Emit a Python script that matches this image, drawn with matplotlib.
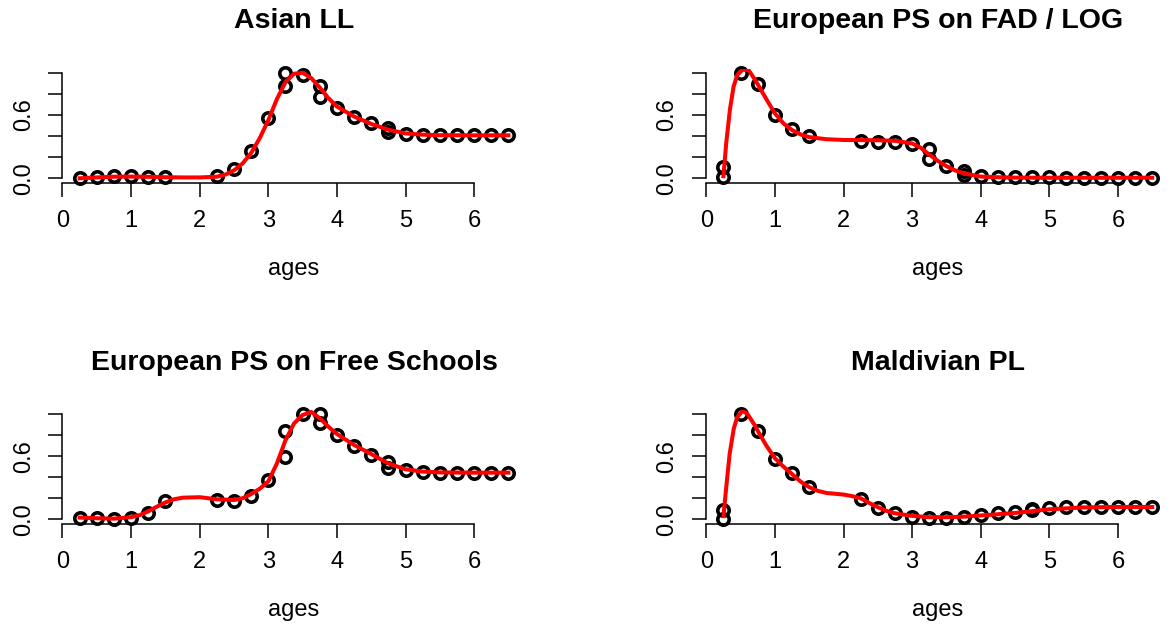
import matplotlib
matplotlib.use("Agg")
import matplotlib.pyplot as plt

plt.rcParams['font.family'] = ['Liberation Sans', 'DejaVu Sans']

titles = ["Asian LL", "European PS on FAD / LOG",
          "European PS on Free Schools", "Maldivian PL"]
xlabel = "ages"
xticks = [0, 1, 2, 3, 4, 5, 6]
yticks = [0.0, 0.2, 0.4, 0.6, 0.8, 1.0]
ytick_labels = ["0.0", "", "", "0.6", "", ""]

# observed selectivity points
ages1 = [0.25, 0.5, 0.75, 1.0, 1.25, 1.5, 2.25, 2.5, 2.75, 3.0, 3.25, 3.25, 3.5,
         3.75, 3.75, 4.0, 4.25, 4.5, 4.75, 4.75, 5.0, 5.25, 5.5, 5.75, 6.0, 6.25, 6.5]
sel1 = [0.0, 0.01, 0.025, 0.022, 0.015, 0.015, 0.022, 0.088, 0.26, 0.574, 1.0, 0.874,
        0.978, 0.874, 0.767, 0.662, 0.584, 0.52, 0.48, 0.44, 0.423, 0.407, 0.407,
        0.407, 0.407, 0.407, 0.407]

ages2 = [0.25, 0.25, 0.5, 0.75, 1.0, 1.25, 1.5, 2.25, 2.5, 2.75, 3.0, 3.25, 3.25,
         3.5, 3.75, 3.75, 4.0, 4.25, 4.5, 4.75, 5.0, 5.25, 5.5, 5.75, 6.0, 6.25, 6.5]
sel2 = [0.104, 0.01, 1.0, 0.893, 0.6, 0.464, 0.40, 0.356, 0.344, 0.344, 0.325, 0.274,
        0.186, 0.117, 0.073, 0.035, 0.022, 0.016, 0.013, 0.012, 0.008, 0.006, 0.006,
        0.006, 0.006, 0.005, 0.005]

ages3 = [0.25, 0.5, 0.75, 1.0, 1.25, 1.5, 2.25, 2.5, 2.75, 3.0, 3.25, 3.25, 3.5,
         3.75, 3.75, 4.0, 4.25, 4.5, 4.75, 4.75, 5.0, 5.25, 5.5, 5.75, 6.0, 6.25, 6.5]
sel3 = [0.016, 0.01, 0.006, 0.016, 0.063, 0.17, 0.183, 0.177, 0.225, 0.37, 0.84, 0.595,
        0.997, 1.0, 0.91, 0.80, 0.696, 0.61, 0.547, 0.49, 0.465, 0.45, 0.443, 0.443,
        0.443, 0.443, 0.443]

ages4 = [0.25, 0.25, 0.5, 0.75, 1.0, 1.25, 1.5, 2.25, 2.5, 2.75, 3.0, 3.25, 3.5, 3.75,
         4.0, 4.25, 4.5, 4.75, 4.75, 5.0, 5.25, 5.5, 5.75, 6.0, 6.25, 6.5]
sel4 = [0.089, 0.006, 1.0, 0.842, 0.573, 0.443, 0.31, 0.19, 0.104, 0.057, 0.025, 0.016,
        0.016, 0.025, 0.041, 0.057, 0.073, 0.089, 0.1, 0.104, 0.114, 0.117, 0.117,
        0.117, 0.117, 0.117]

# fitted selectivity curves
cx1 = [0.25, 0.5, 0.75, 1.0, 1.25, 1.5, 1.75, 2.0, 2.25, 2.375, 2.5, 2.625, 2.75, 2.875,
       3.0, 3.125, 3.25, 3.375, 3.5, 3.625, 3.75, 3.875, 4.0, 4.25, 4.5, 4.75, 5.0,
       5.25, 5.5, 6.0, 6.5]
cy1 = [0.0, 0.008, 0.015, 0.016, 0.014, 0.01, 0.008, 0.008, 0.015, 0.035, 0.075, 0.14,
       0.24, 0.38, 0.55, 0.75, 0.91, 0.99, 1.0, 0.95, 0.86, 0.76, 0.68, 0.585, 0.515,
       0.46, 0.425, 0.413, 0.408, 0.407, 0.407]

cx2 = [0.25, 0.29, 0.344, 0.398, 0.453, 0.5, 0.535, 0.616, 0.698, 0.75, 0.875, 1.0,
       1.125, 1.25, 1.375, 1.5, 1.75, 2.0, 2.5, 2.75, 3.0, 3.125, 3.25, 3.375, 3.5,
       3.625, 3.75, 4.0, 4.25, 4.5, 5.0, 6.5]
cy2 = [0.02, 0.33, 0.65, 0.87, 0.98, 1.01, 1.03, 1.025, 0.946, 0.89, 0.75, 0.615,
       0.52, 0.457, 0.415, 0.39, 0.37, 0.363, 0.36, 0.355, 0.33, 0.29, 0.225, 0.165,
       0.115, 0.075, 0.047, 0.016, 0.01, 0.006, 0.005, 0.005]

cx3 = [0.25, 0.5, 0.75, 1.0, 1.125, 1.25, 1.375, 1.5, 1.625, 1.75, 2.0, 2.25, 2.5,
       2.625, 2.75, 2.875, 3.0, 3.125, 3.25, 3.375, 3.5, 3.625, 3.75, 3.875, 4.0,
       4.25, 4.5, 4.75, 5.0, 5.25, 5.5, 6.0, 6.5]
cy3 = [0.016, 0.01, 0.006, 0.02, 0.04, 0.075, 0.12, 0.16, 0.19, 0.205, 0.21, 0.19,
       0.183, 0.2, 0.24, 0.29, 0.36, 0.53, 0.75, 0.91, 0.99, 1.02, 0.96, 0.88, 0.81,
       0.706, 0.62, 0.53, 0.475, 0.453, 0.445, 0.443, 0.443]

cx4 = [0.25, 0.29, 0.34, 0.4, 0.45, 0.53, 0.6, 0.7, 0.75, 0.875, 1.0, 1.125, 1.25,
       1.375, 1.5, 1.625, 1.75, 2.0, 2.125, 2.25, 2.375, 2.5, 2.625, 2.75, 3.0, 3.25,
       3.5, 3.75, 4.0, 4.5, 5.0, 5.5, 6.0, 6.5]
cy4 = [0.03, 0.3, 0.62, 0.86, 0.97, 1.03, 1.0, 0.9, 0.84, 0.70, 0.58, 0.5, 0.43,
       0.358, 0.305, 0.27, 0.25, 0.235, 0.22, 0.2, 0.155, 0.115, 0.08, 0.057, 0.032,
       0.02, 0.02, 0.025, 0.036, 0.06, 0.095, 0.113, 0.117, 0.117]

points = [(ages1, sel1), (ages2, sel2), (ages3, sel3), (ages4, sel4)]
curves = [(cx1, cy1), (cx2, cy2), (cx3, cy3), (cx4, cy4)]

W, H = 1176, 629
fig = plt.figure(figsize=(W / 100, H / 100), dpi=100)

# plot regions in pixels: (left, right, top, bottom)
unit_x = 68.6
xlim = (0, 6.75)
ylim = (-0.04, 1.04)
regions = [
    (62.5, 62.5 + unit_x * 6.75, 68.5, 182.5),
    (706.3, 706.3 + unit_x * 6.75, 68.5, 182.5),
    (62.5, 62.5 + unit_x * 6.75, 409.8, 523.5),
    (706.3, 706.3 + unit_x * 6.75, 409.8, 523.5),
]
title_y = [21, 21, 363, 363]
xlab_y = [269, 269, 610, 610]

for i, (l, r, t, b) in enumerate(regions):
    ax = fig.add_axes([l / W, 1 - b / H, (r - l) / W, (b - t) / H])
    px, py = points[i]
    cxs, cys = curves[i]
    ax.plot(px, py, linestyle='none', marker='o', markersize=8.2,
            markerfacecolor='none', markeredgecolor='black', markeredgewidth=2.6,
            clip_on=False)
    ax.plot(cxs, cys, color='#ff0000', linewidth=2.9, solid_joinstyle='round')
    ax.set_xlim(*xlim)
    ax.set_ylim(*ylim)
    for s in ['top', 'right']:
        ax.spines[s].set_visible(False)
    ax.spines['left'].set_bounds(0, 1)
    ax.spines['bottom'].set_bounds(0, 6)
    for s in ['left', 'bottom']:
        ax.spines[s].set_linewidth(1.1)
    ax.set_xticks(xticks)
    ax.set_xticklabels([str(v) for v in xticks])
    ax.set_yticks(yticks)
    ax.set_yticklabels(ytick_labels, rotation=90, va='center')
    ax.tick_params(axis='both', length=10, width=1.1, labelsize=17, pad=10)
    ax.patch.set_visible(False)
    cxp = (l + r) / 2 / W
    fig.text(cxp, 1 - title_y[i] / H, titles[i], ha='center', va='center',
             fontsize=20.5, fontweight='bold')
    fig.text(cxp, 1 - xlab_y[i] / H, xlabel, ha='center', va='center', fontsize=17)

fig.savefig("out.png", dpi=100)
